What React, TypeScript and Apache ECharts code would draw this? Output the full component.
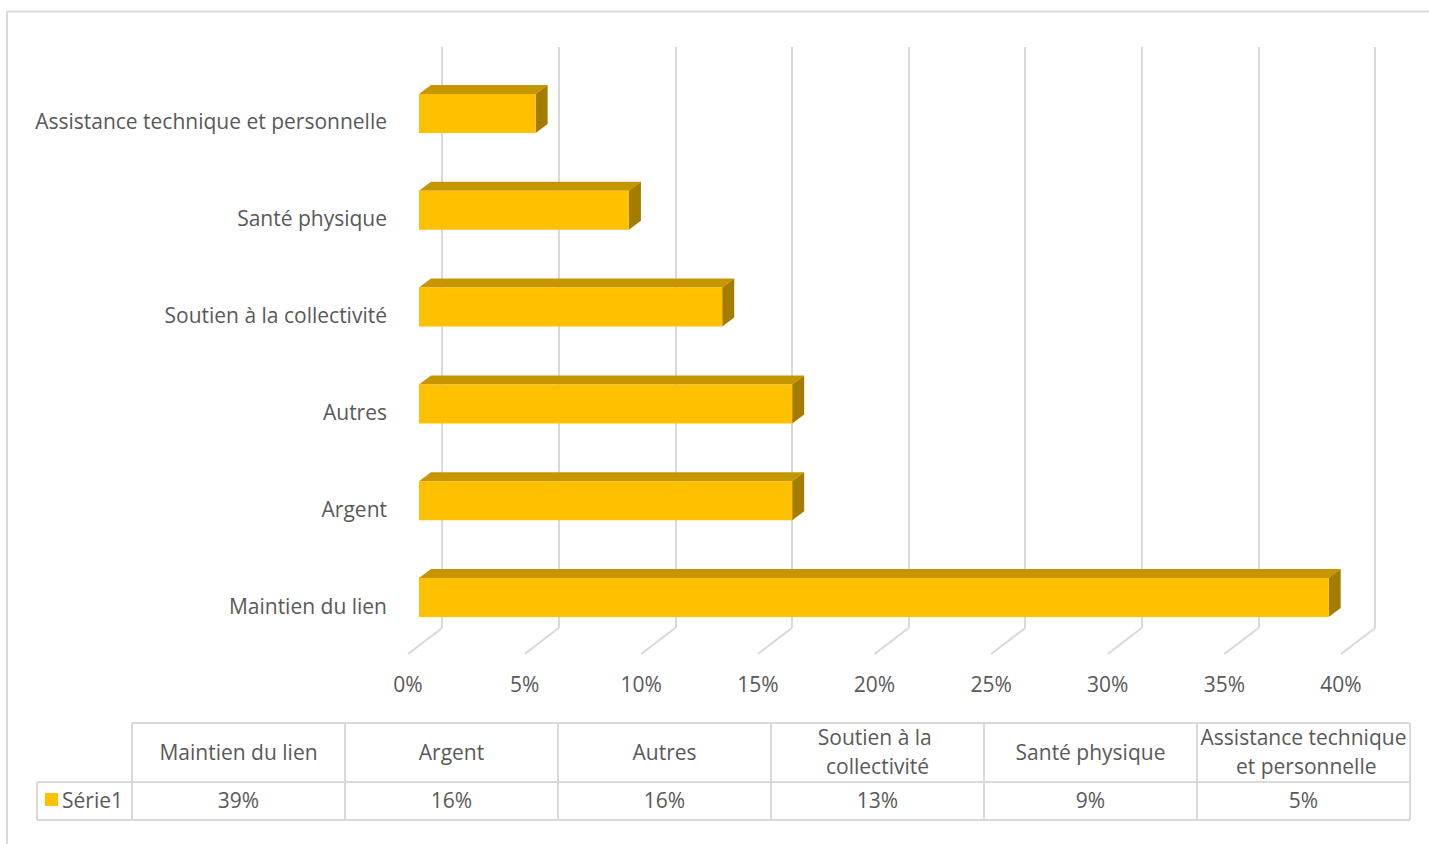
import { useEffect, useRef } from "react";
import * as echarts from "echarts";

const categories = [
  "Maintien du lien",
  "Argent",
  "Autres",
  "Soutien à la collectivité",
  "Santé physique",
  "Assistance technique et personnelle",
];
const values = [39, 16, 16, 13, 9, 5];
const xTicks = [0, 5, 10, 15, 20, 25, 30, 35, 40];
const seriesName = "Série1";

const FONT = "'Open Sans', Lato, sans-serif";
const FS = 21;
const TEXT = "#595959";
const GRID = "#d9d9d9";
const FRONT = "#FFC000";
const TOPC = "#C69600";
const SIDE = "#A47C00";

export default function App() {
  const ref = useRef<HTMLDivElement>(null);
  useEffect(() => {
    const chart = echarts.init(ref.current!, null, { renderer: "svg" });

    // table geometry
    const tX0 = 132, colW = 213, legX = 37;
    const rY0 = 723, rY1 = 782, rY2 = 820;
    const tableEls: any[] = [];
    const line = (x1: number, y1: number, x2: number, y2: number) => ({
      type: "line",
      shape: { x1, y1, x2, y2 },
      style: { stroke: GRID, lineWidth: 2 },
    });
    const tX1 = tX0 + colW * categories.length;
    tableEls.push(line(tX0, rY0, tX1, rY0));
    tableEls.push(line(legX, rY1, tX1, rY1));
    tableEls.push(line(legX, rY2, tX1, rY2));
    tableEls.push(line(legX, rY1, legX, rY2));
    for (let i = 0; i <= categories.length; i++) {
      tableEls.push(line(tX0 + i * colW, rY0, tX0 + i * colW, rY2));
    }
    categories.forEach((c, i) => {
      const cx = tX0 + colW * i + colW / 2;
      tableEls.push({
        type: "text",
        x: cx,
        y: (rY0 + rY1) / 2 - 1,
        style: {
          text: c,
          width: colW - 2,
          overflow: "break",
          align: "center",
          verticalAlign: "middle",
          fill: TEXT,
          font: `${FS}px ${FONT}`,
          lineHeight: 29,
        },
      });
      tableEls.push({
        type: "text",
        x: cx,
        y: (rY1 + rY2) / 2 - 1.5,
        style: {
          text: values[i] + "%",
          align: "center",
          verticalAlign: "middle",
          fill: TEXT,
          font: `${FS}px ${FONT}`,
        },
      });
    });
    tableEls.push({
      type: "rect",
      shape: { x: 45, y: 793, width: 13, height: 13 },
      style: { fill: FRONT },
    });
    tableEls.push({
      type: "text",
      x: 62,
      y: (rY1 + rY2) / 2 - 1.5,
      style: {
        text: seriesName,
        align: "left",
        verticalAlign: "middle",
        fill: TEXT,
        font: `${FS}px ${FONT}`,
      },
    });
    // outer chart border
    tableEls.push(line(7, 11.5, 1429, 11.5));
    tableEls.push(line(7, 11, 7, 844));

    const option: any = {
      animation: false,
      backgroundColor: "#fff",
      textStyle: { fontFamily: FONT },
      grid: [
        { left: 442, right: 1429 - 1375, top: 47, bottom: 844 - 628 },
        { left: 408, right: 1429 - 1341, top: 73, bottom: 844 - 654 },
      ],
      xAxis: [
        {
          type: "value",
          gridIndex: 0,
          min: 0,
          max: 40,
          interval: 5,
          axisLabel: { show: false },
          axisLine: { show: false },
          axisTick: { show: false },
          splitLine: { show: true, lineStyle: { color: GRID, width: 2 } },
        },
        {
          type: "value",
          gridIndex: 1,
          min: 0,
          max: 40,
          interval: 5,
          axisLabel: {
            formatter: "{value}%",
            color: TEXT,
            fontSize: FS,
            fontFamily: FONT,
            margin: 19,
          },
          axisLine: { show: false },
          axisTick: { show: false },
          splitLine: { show: false },
        },
      ],
      yAxis: [
        {
          type: "category",
          gridIndex: 0,
          data: categories,
          axisLabel: { show: false },
          axisLine: { show: false },
          axisTick: { show: false },
        },
        {
          type: "category",
          gridIndex: 1,
          data: categories,
          axisLabel: {
            color: TEXT,
            fontSize: FS,
            fontFamily: FONT,
            margin: 21,
          },
          axisLine: { show: false },
          axisTick: { show: false },
        },
      ],
      series: [
        {
          type: "custom",
          name: "floor",
          xAxisIndex: 0,
          yAxisIndex: 0,
          clip: false,
          silent: true,
          data: xTicks.map((t) => [t, 0]),
          encode: { x: 0, y: 1 },
          renderItem: (params: any, api: any) => {
            const p = api.coord([api.value(0), 0]);
            const bottom = params.coordSys.y + params.coordSys.height;
            return {
              type: "line",
              shape: { x1: p[0], y1: bottom, x2: p[0] - 34, y2: bottom + 26 },
              style: { stroke: GRID, lineWidth: 2 },
            };
          },
        },
        {
          type: "custom",
          name: seriesName,
          xAxisIndex: 0,
          yAxisIndex: 0,
          clip: false,
          data: values.map((v, i) => [v, i]),
          encode: { x: 0, y: 1 },
          renderItem: (params: any, api: any) => {
            const v = api.value(0);
            const c = api.value(1);
            const p0 = api.coord([0, c]);
            const p1 = api.coord([v, c]);
            const H = 39, DX = 12, DY = 9;
            const x0 = p0[0] - 23;
            const x1 = p1[0] - 23;
            const yc = p0[1] + 18;
            const top = yc - H / 2;
            const bot = yc + H / 2;
            return {
              type: "group",
              children: [
                {
                  type: "polygon",
                  shape: { points: [[x0, top], [x1, top], [x1 + DX, top - DY], [x0 + DX, top - DY]] },
                  style: { fill: TOPC },
                },
                {
                  type: "polygon",
                  shape: { points: [[x1, top], [x1 + DX, top - DY], [x1 + DX, bot - DY], [x1, bot]] },
                  style: { fill: SIDE },
                },
                {
                  type: "rect",
                  shape: { x: x0, y: top, width: x1 - x0, height: H },
                  style: { fill: FRONT },
                },
              ],
            };
          },
        },
      ],
      graphic: { elements: tableEls },
    };
    chart.setOption(option);
    return () => chart.dispose();
  }, []);
  return (
    <div
      ref={ref}
      style={{ position: "fixed", left: 0, top: 0, width: 1429, height: 844, background: "#fff" }}
    />
  );
}
